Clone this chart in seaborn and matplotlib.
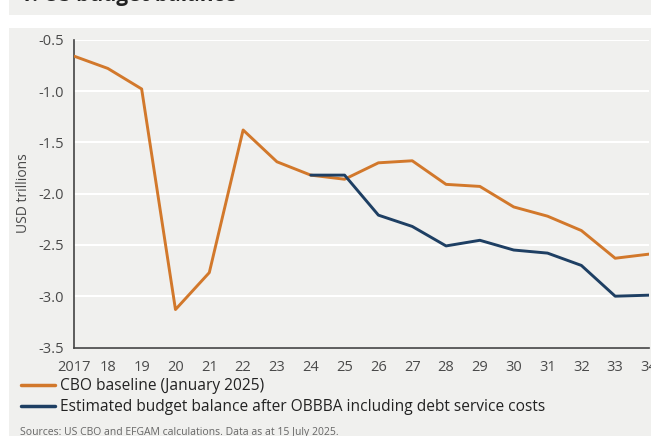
import matplotlib
matplotlib.use("Agg")
import matplotlib.pyplot as plt
import seaborn as sns
import pandas as pd
from matplotlib.patches import Rectangle
from matplotlib.lines import Line2D

# Data (USD trillions)
years = list(range(2017, 2035))
cbo_baseline = [-0.66, -0.78, -0.98, -3.13, -2.77, -1.38, -1.69, -1.82, -1.86,
                -1.70, -1.68, -1.91, -1.93, -2.13, -2.22, -2.36, -2.63, -2.59]
obbba_years = list(range(2024, 2035))
obbba_balance = [-1.82, -1.82, -2.21, -2.32, -2.51, -2.455, -2.55, -2.58, -2.70, -3.00, -2.99]
tick_labels = ["2017"] + [str(y)[2:] for y in years[1:]]

label_cbo = "CBO baseline (January 2025)"
label_obbba = "Estimated budget balance after OBBBA including debt service costs"

df = pd.concat([
    pd.DataFrame({"year": years, "value": cbo_baseline, "series": label_cbo}),
    pd.DataFrame({"year": obbba_years, "value": obbba_balance, "series": label_obbba}),
])

orange = "#d2782b"
navy = "#1e3f63"
bg = "#f0f0ee"
txt = "#4a4a4a"

sns.set_style("white")
plt.rcParams["font.family"] = ["Open Sans", "DejaVu Sans"]

W, H = 651, 436
fig = plt.figure(figsize=(W / 100, H / 100), dpi=100, facecolor="white")

# gray title band and panel
fig.patches.append(Rectangle((9 / W, 1 - 15 / H), 1, 15 / H, transform=fig.transFigure,
                             facecolor=bg, edgecolor="none", zorder=-10))
fig.patches.append(Rectangle((9 / W, 0), 1, 1 - 28 / H, transform=fig.transFigure,
                             facecolor=bg, edgecolor="none", zorder=-10))
fig.text(20 / W, 1 - 0.5 / H, "1. US budget balance", fontsize=15, fontweight="bold",
         color="#222222", va="baseline", ha="left")

x0, x1 = 74, 649
y_top, y_bot = 39.7, 347.5
ax = fig.add_axes([x0 / W, (H - y_bot) / H, (x1 - x0) / W, (y_bot - y_top) / H])
ax.set_facecolor(bg)

sns.lineplot(data=df, x="year", y="value", hue="series",
             palette={label_cbo: orange, label_obbba: navy},
             linewidth=2.1, ax=ax, legend=False, zorder=3)

ax.set_xlim(2017, 2034)
ax.set_ylim(-3.5, -0.5)
ax.set_xticks(years)
ax.set_xticklabels(tick_labels)
ax.set_yticks([-3.5, -3.0, -2.5, -2.0, -1.5, -1.0, -0.5])
ax.set_yticklabels(["-3.5", "-3.0", "-2.5", "-2.0", "-1.5", "-1.0", "-0.5"])
ax.yaxis.grid(True, color="white", linewidth=1.5, zorder=1)
ax.set_axisbelow(True)
for s in ["top", "right"]:
    ax.spines[s].set_visible(False)
for s in ["left", "bottom"]:
    ax.spines[s].set_color("#444444")
    ax.spines[s].set_linewidth(1.2)
ax.tick_params(axis="both", direction="out", length=5, width=1.2, color="#444444",
               labelsize=10.5, labelcolor=txt, pad=2)
ax.tick_params(axis="x", pad=4)
ax.set_xlabel("")
ax.set_ylabel("USD trillions", fontsize=10, color=txt)
ax.yaxis.set_label_coords(-(x0 - 31) / (x1 - x0), 0.5)

handles = [Line2D([], [], color=orange, linewidth=2.5),
           Line2D([], [], color=navy, linewidth=2.5)]
fig.legend(handles, [label_cbo, label_obbba], loc="upper left",
           bbox_to_anchor=(21 / W, 1 - 378 / H), frameon=False, fontsize=11.2,
           labelcolor="#222222", handlelength=2.2, handletextpad=0.3,
           labelspacing=0.32, borderaxespad=0, borderpad=0)

fig.text(20 / W, 4 / H, "Sources: US CBO and EFGAM calculations. Data as at 15 July 2025.",
         fontsize=7.5, color="#666666", va="center", ha="left")

fig.savefig("out.png", dpi=100, facecolor="white")
